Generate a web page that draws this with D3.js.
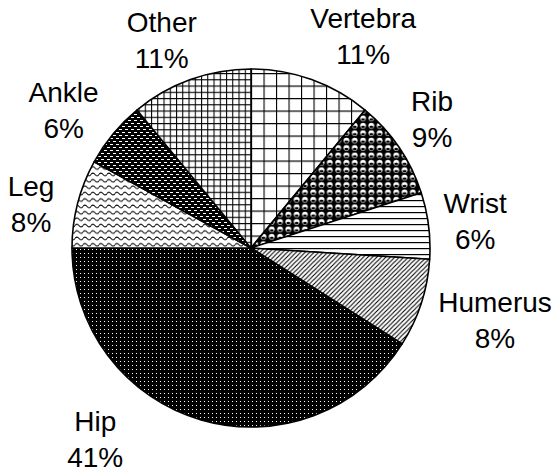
<!DOCTYPE html>
<html>
<head>
<meta charset="utf-8">
<script src="https://cdn.jsdelivr.net/npm/d3@7"></script>
<style>
  body { margin: 0; background: #fff; }
  svg { display: block; }
</style>
</head>
<body>
<svg id="chart" width="555" height="472"></svg>
<script>
// data
const categories = ["Vertebra", "Rib", "Wrist", "Humerus", "Hip", "Leg", "Ankle", "Other"];
const values = [11, 9, 6, 8, 41, 8, 6, 11];
const pctLabels = ["11%", "9%", "6%", "8%", "41%", "8%", "6%", "11%"];

// label nudges (Excel moves some labels off the centroid)
const nudge = {
  Vertebra: [36, 0], Rib: [-5, -3], Wrist: [1, 1], Humerus: [30, 2],
  Hip: [-93, -25], Leg: [-2, 12], Ankle: [-14, 5], Other: [-13, 4]
};

const width = 555, height = 472;
const cx = 251, cy = 248, radius = 179, labelR = 225;

const svg = d3.select("#chart");
const defs = svg.append("defs");

function pat(id, w, h) {
  return defs.append("pattern").attr("id", id)
    .attr("patternUnits", "userSpaceOnUse")
    .attr("width", w).attr("height", h);
}

// Vertebra: large grid
let p = pat("p-vertebra", 12.5, 12.5);
p.append("rect").attr("width", 12.5).attr("height", 12.5).attr("fill", "#fff");
p.append("path").attr("d", "M0.5,0V12.5M0,0.5H12.5").attr("stroke", "#000").attr("stroke-width", 1.2);

// Rib: spheres
p = pat("p-rib", 8.3, 7.4);
p.append("rect").attr("width", 8.3).attr("height", 7.4).attr("fill", "#000");
p.append("circle").attr("cx", 4.15).attr("cy", 3.5).attr("r", 2.9).attr("fill", "#fff");
p.append("ellipse").attr("cx", 4.15).attr("cy", 4.7).attr("rx", 2).attr("ry", 1.2).attr("fill", "#000");

// Wrist: narrow horizontal
p = pat("p-wrist", 6, 6);
p.append("rect").attr("width", 6).attr("height", 6).attr("fill", "#fff");
p.append("path").attr("d", "M0,0.6H6").attr("stroke", "#000").attr("stroke-width", 1.2);

// Humerus: upward diagonal
p = pat("p-humerus", 4.5, 4.5);
p.append("rect").attr("width", 4.5).attr("height", 4.5).attr("fill", "#fff");
p.append("path").attr("d", "M-1,5.5L5.5,-1M-1,1L1,-1M3.5,5.5L5.5,3.5").attr("stroke", "#000").attr("stroke-width", 1.1);

// Hip: black with sparse white dots
p = pat("p-hip", 4, 4);
p.append("rect").attr("width", 4).attr("height", 4).attr("fill", "#000");
p.append("rect").attr("x", 1).attr("y", 1).attr("width", 1).attr("height", 1).attr("fill", "#fff");

// Leg: wave
p = pat("p-leg", 8, 6.4);
p.append("rect").attr("width", 8).attr("height", 6.4).attr("fill", "#fff");
p.append("path").attr("d", "M0,3.2Q2,0.6 4,3.2T8,3.2").attr("fill", "none").attr("stroke", "#000").attr("stroke-width", 1.1);

// Ankle: black with white dashes
p = pat("p-ankle", 6, 6);
p.append("rect").attr("width", 6).attr("height", 6).attr("fill", "#000");
p.append("rect").attr("x", 0).attr("y", 1).attr("width", 3).attr("height", 1).attr("fill", "#fff");
p.append("rect").attr("x", 3).attr("y", 4).attr("width", 3).attr("height", 1).attr("fill", "#fff");

// Other: small grid
p = pat("p-other", 6.25, 6.25);
p.append("rect").attr("width", 6.25).attr("height", 6.25).attr("fill", "#fff");
p.append("path").attr("d", "M0.5,0V6.25M0,0.5H6.25").attr("stroke", "#000").attr("stroke-width", 1.1);

const data = categories.map((c, i) => ({ name: c, value: values[i], pct: pctLabels[i] }));

const pie = d3.pie().sort(null).value(d => d.value).startAngle(0).endAngle(2 * Math.PI);
const arcs = pie(data);
const arc = d3.arc().innerRadius(0).outerRadius(radius);
const labelArc = d3.arc().innerRadius(labelR).outerRadius(labelR);

const g = svg.append("g").attr("transform", `translate(${cx},${cy})`);

g.selectAll("path.slice")
  .data(arcs)
  .join("path")
  .attr("class", "slice")
  .attr("d", arc)
  .attr("fill", d => `url(#p-${d.data.name.toLowerCase()})`)
  .attr("stroke", "#000")
  .attr("stroke-width", 1.6)
  .attr("stroke-linejoin", "round");

const labels = g.selectAll("text.lbl")
  .data(arcs)
  .join("text")
  .attr("class", "lbl")
  .attr("text-anchor", "middle")
  .attr("font-family", "'Liberation Sans', Arial, sans-serif")
  .attr("font-size", 28)
  .attr("fill", "#000")
  .attr("transform", d => {
    const [x, y] = labelArc.centroid(d);
    const n = nudge[d.data.name] || [0, 0];
    return `translate(${x + n[0]},${y + n[1]})`;
  });

labels.append("tspan").attr("x", 0).attr("y", -8).text(d => d.data.name);
labels.append("tspan").attr("x", 0).attr("y", 28).text(d => d.data.pct);
</script>
</body>
</html>
